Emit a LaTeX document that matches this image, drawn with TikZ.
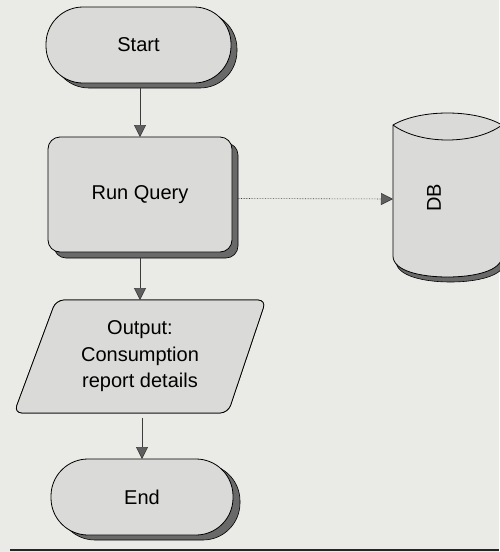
\documentclass[tikz,border=0pt]{standalone}
\usepackage{fontspec}
\setmainfont{Liberation Sans}
\usetikzlibrary{arrows.meta}
\definecolor{paper}{RGB}{234,234,231}
\definecolor{shapefill}{RGB}{218,218,216}
\definecolor{shadowc}{RGB}{105,105,105}
\definecolor{linec}{RGB}{60,60,60}
\definecolor{tipc}{RGB}{95,95,95}
\pgfdeclarelayer{paperlayer}
\pgfdeclarelayer{shapelayer}
\pgfsetlayers{paperlayer,shapelayer,main}
\begin{document}
\begin{tikzpicture}[x=1pt,y=-1pt,
  frame/.style={inner sep=0pt, outer sep=0pt, align=center,
                font=\fontsize{20}{26.5}\selectfont},
  shp/.style={fill=shapefill, draw=black, line width=0.8pt},
  shd/.style={fill=shadowc, draw=black, line width=0.6pt},
  flow/.style={draw=linec, line width=0.6pt,
               -{Triangle[width=12pt,length=12pt,fill=tipc]}},
  dotflow/.style={flow, densely dotted},
]
\useasboundingbox (0,0) rectangle (499,552);
\clip (0,0) rectangle (499,552);

% frames carrying the texts
\node[frame, minimum width=185pt, minimum height=76pt] (start) at (138.5,45) {Start};
\node[frame, minimum width=184pt, minimum height=115pt] (run) at (140,194.5) {Run Query};
\node[frame, minimum width=252pt, minimum height=113pt] (out) at (140,356.5)
     {Output:\\Consumption\\report details};
\node[frame, minimum width=182pt, minimum height=76pt] (end) at (142,497) {End};
\node[frame, minimum width=109pt, minimum height=164pt] (db) at (447.5,195) {};
\node[frame, rotate=90] (dblabel) at (434,198) {DB};

\begin{pgfonlayer}{paperlayer}
  \fill[paper] (0,0) rectangle (499,552);
\end{pgfonlayer}

\begin{pgfonlayer}{shapelayer}
  % Start
  \draw[shd, rounded corners=37pt] ([shift={(6,5)}]start.north west) rectangle ([shift={(6,5)}]start.south east);
  \draw[shp, rounded corners=37pt] (start.north west) rectangle (start.south east);
  % Run Query
  \draw[shd, rounded corners=12pt] ([shift={(6,6)}]run.north west) rectangle ([shift={(6,6)}]run.south east);
  \draw[shp, rounded corners=12pt] (run.north west) rectangle (run.south east);
  % Output
  \begin{scope}[shift={(6,5)}]
    \draw[shd, rounded corners=8pt] ([xshift=42pt]out.north west) -- (out.north east)
      -- ([xshift=-38pt]out.south east) -- (out.south west) -- cycle;
  \end{scope}
  \draw[shp, rounded corners=8pt] ([xshift=42pt]out.north west) -- (out.north east)
      -- ([xshift=-38pt]out.south east) -- (out.south west) -- cycle;
  % End
  \draw[shd, rounded corners=37pt] ([shift={(7,5)}]end.north west) rectangle ([shift={(7,5)}]end.south east);
  \draw[shp, rounded corners=37pt] (end.north west) rectangle (end.south east);
  % DB cylinder
  \begin{scope}[shift={(db.north west)}]
    \draw[shd] (3,17) -- (3,148) .. controls (3,163) and (31,169) .. (57.5,169)
       .. controls (84,169) and (112,163) .. (112,148) -- (112,17) -- cycle;
    \draw[shp] (0,12) -- (0,143) .. controls (0,158) and (28,164) .. (54.5,164)
       .. controls (81,164) and (109,158) .. (109,143) -- (109,12)
       .. controls (82,-4) and (27,-4) .. (0,12) -- cycle;
    \draw[line width=0.8pt] (0,12) .. controls (27,32) and (82,32) .. (109,12);
  \end{scope}
\end{pgfonlayer}

% connectors
\draw[flow] ([yshift=-5pt]start.south -| run.north) -- (run.north);
\draw[flow] ([yshift=-6pt]run.south) -- (out.north -| run.south);
\draw[flow] ([yshift=-5pt]out.south -| end.north) -- (end.north);
\draw[dotflow] ([xshift=6pt,yshift=-4pt]run.east) -- ([yshift=-4pt]db.west);

% rule at the foot
\draw[line width=2.5pt, black!85] (10,550) -- (499,550);
\end{tikzpicture}
\end{document}
